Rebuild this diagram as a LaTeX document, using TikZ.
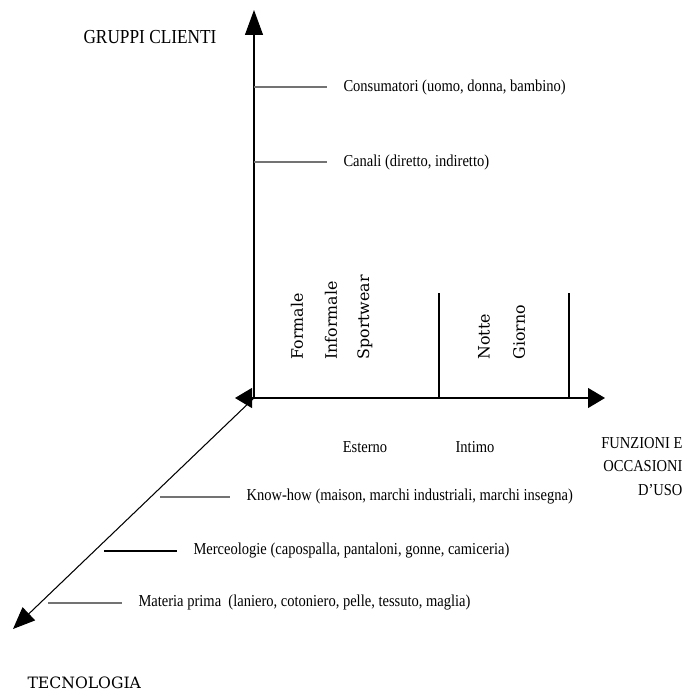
\documentclass[tikz,border=0pt]{standalone}
\usepackage{fontspec}
\setmainfont[FakeStretch=0.87]{Liberation Serif}
\newfontfamily\slabfont{DejaVu Serif}
\usetikzlibrary{arrows.meta}

\begin{document}
\begin{tikzpicture}[>={Triangle[length=0.34cm, width=0.4cm]}, line width=0.6pt,
    lbl/.style={anchor=west, inner sep=0pt, font=\fontsize{9.5}{11}\selectfont},
    vlbl/.style={anchor=west, rotate=90, inner sep=0pt, font=\slabfont\fontsize{9}{11}\selectfont},
    gtick/.style={black!55, line width=1pt},
    btick/.style={black, line width=0.8pt}]
    \useasboundingbox (-5.08,-5.84) rectangle (8.62,7.96);

    % Axes
    \coordinate (O) at (0,0);
    \coordinate (ytop) at (0,7.76);
    \coordinate (xl) at (-0.38,0);
    \coordinate (xr) at (7.02,0);
    \coordinate (zend) at (-4.82,-4.62);
    \draw[-{Triangle[length=0.5cm, width=0.36cm]}] (O) -- (ytop);
    \draw[<->] (xl) -- (xr);
    \draw[-{Triangle[length=0.44cm, width=0.36cm]}] (O) -- (zend);

    % Axis names
    \node[lbl, font=\fontsize{11.3}{13}\selectfont] (gruppi) at (-3.42,7.22) {GRUPPI CLIENTI};
    \node[anchor=north east, inner sep=0pt, align=right, font=\fontsize{9.5}{13.3}\selectfont] (funz) at (8.58,-0.78) {FUNZIONI E\\OCCASIONI\\D'USO};
    \node[lbl, font=\slabfont\fontsize{8.9}{11}\selectfont] (tecno) at (-4.54,-5.7) {TECNOLOGIA};

    % Gruppi clienti
    \coordinate (t1) at (0,6.22);
    \coordinate (t2) at (0,4.72);
    \node[lbl] (consum) at (1.78,6.22) {Consumatori (uomo, donna, bambino)};
    \node[lbl] (canali) at (1.78,4.72) {Canali (diretto, indiretto)};
    \draw[gtick] (t1) -- ([xshift=-0.32cm]consum.west);
    \draw[gtick] (t2) -- ([xshift=-0.32cm]canali.west);

    % Funzioni e occasioni d'uso
    \coordinate (d1) at (3.7,0);
    \coordinate (d2) at (6.3,0);
    \draw (d1) -- ++(0,2.1);
    \draw (d2) -- ++(0,2.1);
    \node[vlbl] (formale) at (0.86,0.76) {Formale};
    \node[vlbl] (informale) at (1.54,0.76) {Informale};
    \node[vlbl] (sport) at (2.22,0.76) {Sportwear};
    \node[vlbl] (notte) at (4.6,0.76) {Notte};
    \node[vlbl] (giorno) at (5.3,0.76) {Giorno};
    \node[lbl, anchor=center] (esterno) at (2.22,-0.98) {Esterno};
    \node[lbl, anchor=center] (intimo) at (4.42,-0.98) {Intimo};

    % Tecnologia
    \node[lbl] (know) at (-0.16,-1.98) {Know-how (maison, marchi industriali, marchi insegna)};
    \node[lbl] (merce) at (-1.22,-3.06) {Merceologie (capospalla, pantaloni, gonne, camiceria)};
    \node[lbl] (materia) at (-2.32,-4.1) {Materia prima~~(laniero, cotoniero, pelle, tessuto, maglia)};
    \draw[gtick] ([xshift=-0.32cm]know.west) -- ++(-1.4,0);
    \draw[btick] ([xshift=-0.32cm]merce.west) -- ++(-1.46,0);
    \draw[gtick] ([xshift=-0.32cm]materia.west) -- ++(-1.48,0);
\end{tikzpicture}
\end{document}
